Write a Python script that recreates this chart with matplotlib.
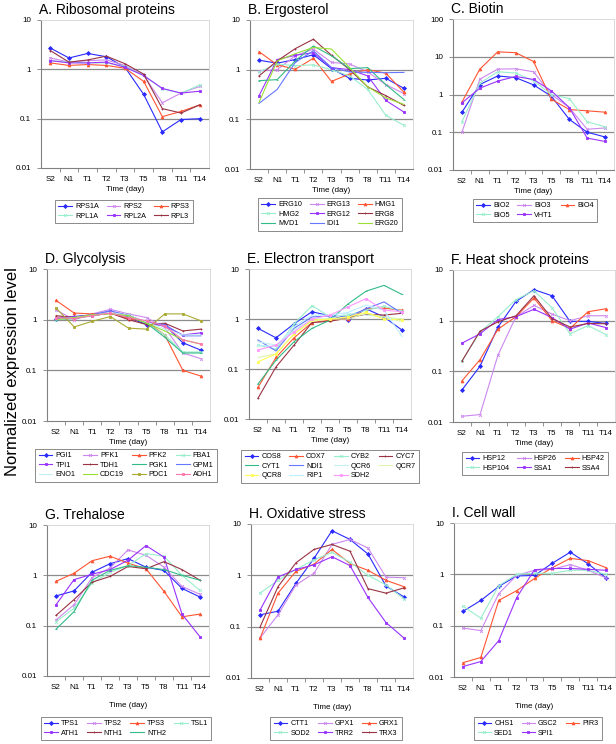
import matplotlib
matplotlib.use('Agg')
import matplotlib.pyplot as plt
from matplotlib.ticker import FixedLocator, NullFormatter, FuncFormatter

plt.rcParams['font.family'] = ['Liberation Sans', 'DejaVu Sans']

times = ['S2', 'N1', 'T1', 'T2', 'T3', 'T5', 'T8', 'T11', 'T14']

# A. Ribosomal proteins
ribo_genes = ['RPS1A', 'RPS2', 'RPS3', 'RPL1A', 'RPL2A', 'RPL3']
ribo_values = [
    [2.7, 1.7, 2.1, 1.8, 1.1, 0.31, 0.054, 0.096, 0.1],
    [1.7, 1.4, 1.5, 1.55, 1.2, 0.75, 0.21, 0.33, 0.45],
    [1.35, 1.2, 1.25, 1.2, 1.05, 0.57, 0.11, 0.14, 0.19],
    [1.5, 1.4, 1.35, 1.35, 1.15, 0.75, 0.4, 0.33, 0.48],
    [1.5, 1.35, 1.35, 1.4, 1.1, 0.75, 0.41, 0.33, 0.36],
    [2.4, 1.4, 1.55, 1.85, 1.3, 0.8, 0.16, 0.13, 0.19],
]

# B. Ergosterol
ergo_genes = ['ERG10', 'ERG13', 'HMG1', 'HMG2', 'ERG12', 'ERG8', 'MVD1', 'IDI1', 'ERG20']
ergo_values = [
    [1.55, 1.35, 1.6, 2.0, 1.05, 0.67, 0.62, 0.67, 0.42],
    [0.95, 1.0, 1.9, 2.6, 1.4, 1.3, 0.9, 0.5, 0.33],
    [2.3, 1.25, 1.02, 1.7, 0.58, 0.82, 1.0, 0.85, 0.35],
    [0.9, 1.3, 1.2, 1.25, 1.0, 0.75, 0.4, 0.12, 0.076],
    [0.3, 1.6, 1.95, 2.2, 1.1, 1.0, 0.75, 0.24, 0.14],
    [0.75, 1.5, 2.65, 4.1, 1.95, 1.0, 0.45, 0.3, 0.19],
    [0.6, 0.63, 1.5, 3.0, 1.9, 1.05, 1.1, 0.5, 0.25],
    [0.21, 0.4, 1.4, 2.4, 1.1, 0.9, 0.88, 0.87, 0.88],
    [0.22, 1.5, 2.1, 2.8, 2.6, 1.1, 0.45, 0.27, 0.2],
]

# C. Biotin
bio_genes = ['BIO2', 'BIO3', 'BIO4', 'BIO5', 'VHT1']
bio_values = [
    [0.34, 1.84, 3.1, 2.8, 1.8, 0.9, 0.22, 0.1, 0.075],
    [0.1, 2.55, 4.7, 4.8, 4.0, 1.0, 0.45, 0.12, 0.13],
    [0.63, 4.7, 13.5, 12.8, 7.5, 0.75, 0.4, 0.37, 0.34],
    [0.19, 2.0, 4.0, 3.7, 2.3, 1.0, 0.78, 0.19, 0.14],
    [0.6, 1.47, 2.26, 3.0, 2.5, 1.25, 0.45, 0.07, 0.057],
]

# D. Glycolysis
glyco_genes = ['PGI1', 'PFK1', 'PFK2', 'FBA1', 'TPI1', 'TDH1',
               'PGK1', 'GPM1', 'ENO1', 'CDC19', 'PDC1', 'ADH1']
glyco_values = [
    [1.05, 1.15, 1.25, 1.45, 1.1, 0.8, 0.78, 0.35, 0.25],
    [1.55, 1.0, 1.3, 1.6, 1.3, 1.1, 0.7, 0.22, 0.17],
    [2.4, 1.35, 1.3, 1.35, 1.05, 0.9, 0.5, 0.1, 0.077],
    [1.0, 1.1, 1.2, 1.4, 1.25, 0.85, 0.5, 0.23, 0.23],
    [1.1, 1.15, 1.2, 1.45, 1.2, 0.9, 0.75, 0.5, 0.55],
    [1.2, 1.1, 1.2, 1.35, 1.0, 0.8, 0.85, 0.6, 0.65],
    [1.0, 1.05, 1.2, 1.35, 1.15, 0.85, 0.45, 0.22, 0.22],
    [1.1, 1.1, 1.25, 1.5, 1.2, 0.9, 0.8, 0.48, 0.48],
    [1.0, 1.1, 1.2, 1.4, 1.2, 0.9, 0.65, 0.5, 0.5],
    [1.0, 1.1, 1.25, 1.3, 1.2, 0.85, 0.6, 0.4, 0.33],
    [1.7, 0.72, 0.93, 1.15, 0.68, 0.65, 1.3, 1.3, 0.95],
    [1.1, 1.05, 1.2, 1.35, 1.1, 0.95, 0.75, 0.4, 0.33],
]

# E. Electron transport
elec_genes = ['COS8', 'COX7', 'CYB2', 'CYC7', 'CYT1', 'NDI1',
              'QCR6', 'QCR7', 'QCR8', 'RIP1', 'SDH2']
elec_values = [
    [0.65, 0.42, 0.8, 1.4, 1.15, 0.95, 1.6, 1.1, 0.6],
    [0.043, 0.17, 0.42, 0.85, 0.95, 1.0, 1.6, 1.65, 1.5],
    [0.3, 0.25, 0.8, 1.85, 1.1, 1.2, 1.5, 1.8, 1.45],
    [0.026, 0.11, 0.3, 0.85, 0.9, 1.05, 1.25, 1.2, 1.3],
    [0.05, 0.15, 0.35, 0.65, 0.95, 2.0, 3.6, 4.7, 3.1],
    [0.38, 0.23, 0.65, 1.1, 1.15, 1.1, 1.6, 2.2, 1.3],
    [0.35, 0.3, 0.6, 1.0, 1.0, 1.3, 1.2, 1.1, 0.9],
    [0.17, 0.2, 0.5, 0.9, 1.0, 1.0, 1.3, 1.1, 1.0],
    [0.14, 0.2, 0.5, 0.95, 1.0, 1.1, 1.35, 1.0, 0.95],
    [0.3, 0.28, 0.7, 1.2, 1.2, 1.35, 1.9, 1.5, 0.45],
    [0.24, 0.3, 0.55, 1.0, 1.2, 1.75, 2.55, 1.5, 1.4],
]

# F. Heat shock proteins
hsp_genes = ['HSP12', 'HSP26', 'HSP42', 'HSP104', 'SSA1', 'SSA4']
hsp_values = [
    [0.043, 0.126, 0.75, 2.4, 4.1, 3.1, 0.97, 0.97, 0.88],
    [0.013, 0.014, 0.21, 1.2, 2.0, 1.35, 1.0, 1.25, 1.25],
    [0.065, 0.17, 0.68, 1.2, 2.8, 1.0, 0.7, 1.5, 1.72],
    [0.16, 0.6, 1.2, 2.6, 3.9, 1.8, 0.55, 0.8, 0.53],
    [0.36, 0.55, 1.05, 1.2, 1.68, 1.15, 0.68, 0.9, 0.73],
    [0.16, 0.62, 0.95, 1.25, 3.1, 1.1, 0.75, 0.88, 0.87],
]

# G. Trehalose
treh_genes = ['TPS1', 'TPS2', 'TPS3', 'TSL1', 'ATH1', 'NTH1', 'NTH2']
treh_values = [
    [0.39, 0.49, 1.15, 1.7, 2.15, 1.45, 1.25, 0.55, 0.37],
    [0.13, 0.26, 0.9, 1.4, 3.2, 2.5, 1.45, 0.6, 0.42],
    [0.76, 1.1, 1.95, 2.4, 1.75, 1.35, 0.48, 0.15, 0.17],
    [0.12, 0.22, 0.7, 1.15, 1.55, 2.7, 2.4, 1.0, 0.5],
    [0.26, 0.82, 1.05, 1.3, 2.0, 3.9, 2.3, 0.17, 0.06],
    [0.16, 0.33, 0.73, 0.95, 1.5, 1.35, 1.87, 1.3, 0.8],
    [0.085, 0.19, 0.8, 1.25, 1.55, 1.45, 1.3, 1.0, 0.8],
]

# H. Oxidative stress
oxi_genes = ['CTT1', 'GPX1', 'GRX1', 'SOD2', 'TRR2', 'TRX3']
oxi_values = [
    [0.17, 0.2, 0.7, 2.14, 7.4, 5.0, 2.6, 0.62, 0.38],
    [0.06, 0.17, 0.65, 1.1, 4.0, 5.0, 3.4, 0.92, 0.9],
    [0.059, 0.45, 1.2, 1.65, 3.2, 1.7, 1.25, 0.8, 0.6],
    [0.45, 0.8, 1.3, 2.0, 2.8, 1.8, 1.0, 0.65, 0.35],
    [0.21, 0.93, 1.3, 1.6, 2.3, 1.55, 0.37, 0.12, 0.06],
    [0.098, 0.6, 1.76, 3.2, 4.0, 2.95, 0.55, 0.45, 0.57],
]

# I. Cell wall
wall_genes = ['CHS1', 'GSC2', 'PIR3', 'SED1', 'SPI1']
wall_values = [
    [0.19, 0.31, 0.58, 0.93, 0.95, 1.65, 2.7, 1.6, 0.85],
    [0.09, 0.08, 0.42, 0.95, 1.2, 1.25, 1.55, 1.2, 0.85],
    [0.019, 0.024, 0.31, 0.48, 0.83, 1.35, 2.05, 1.85, 1.35],
    [0.24, 0.14, 0.6, 1.0, 1.05, 1.05, 1.2, 1.2, 1.0],
    [0.016, 0.02, 0.051, 0.35, 1.23, 1.3, 1.3, 1.25, 1.2],
]

# line styles (colour, marker) by palette slot
STYLE = {
    'blue': ('#2a2aff', 'D'), 'violet': ('#cc88ee', 'x'), 'orange': ('#ff5533', '^'),
    'mint': ('#99eecc', 'x'), 'purple': ('#9933ff', 's'), 'maroon': ('#993344', '+'),
    'teal': ('#33bb88', '_'), 'lblue': ('#6677ff', ''), 'pale': ('#c4f0f0', ''),
    'lime': ('#99e033', ''), 'olive': ('#aaaa33', 's'), 'pink': ('#ff77aa', 's'),
    'palelime': ('#ddf5b0', ''), 'yellow': ('#ffff55', 's'), 'sky': ('#bbeeff', ''),
    'lpink': ('#ff99ff', 's'),
}
base6 = ['blue', 'violet', 'orange', 'mint', 'purple', 'maroon']

# title, genes, values, palette, ylim top, axes px (l, t, r, b), legend (cx, top, ncol), xlabel pad
panels = [
    ('A. Ribosomal proteins', ribo_genes, ribo_values, base6, 10,
     (41, 20, 209, 168), (124, 200, 3), 2),
    ('B. Ergosterol', ergo_genes, ergo_values, base6 + ['teal', 'lblue', 'lime'], 10,
     (250, 20, 413, 169), (330, 198, 3), 2),
    ('C. Biotin', bio_genes, bio_values, base6[:5], 100,
     (453, 19, 614, 170), (535, 199, 3), 2),
    ('D. Glycolysis', glyco_genes, glyco_values,
     base6 + ['teal', 'lblue', 'pale', 'lime', 'olive', 'pink'], 10,
     (47, 269, 210, 421), (126, 449, 4), 2),
    ('E. Electron transport', elec_genes, elec_values,
     ['blue', 'orange', 'mint', 'maroon', 'teal', 'lblue', 'pale', 'palelime',
      'yellow', 'sky', 'lpink'], 10,
     (249, 269, 411, 419), (330, 450, 4), 2),
    ('F. Heat shock proteins', hsp_genes, hsp_values, base6, 10,
     (453, 270, 615, 422), (535, 452, 3), 2),
    ('G. Trehalose', treh_genes, treh_values, base6 + ['teal'], 10,
     (47, 525, 209, 676), (126, 717, 4), 8),
    ('H. Oxidative stress', oxi_genes, oxi_values, base6, 10,
     (251, 524, 413, 678), (336, 717, 3), 8),
    ('I. Cell wall', wall_genes, wall_values, base6[:5], 10,
     (454, 523, 615, 677), (538, 717, 3), 8),
]

W, H = 616, 744
fig = plt.figure(figsize=(W / 100, H / 100), dpi=100)


def fmt_dec(v, pos):
    return '{:g}'.format(v)


x = list(range(len(times)))
for title, genes, values, palette, ytop, (l, t, r, b), (lcx, ltop, ncol), xpad in panels:
    ax = fig.add_axes([l / W, 1 - b / H, (r - l) / W, (b - t) / H])
    handles = []
    for gene, vals, key in zip(genes, values, palette):
        color, marker = STYLE[key]
        h, = ax.plot(x, vals, color=color, lw=0.8, marker=marker or None,
                     markersize=2.0, markeredgewidth=0.6, label=gene)
        handles.append(h)
    ax.set_yscale('log')
    ax.set_ylim(0.01, ytop)
    ax.set_xlim(-0.5, len(times) - 0.5)
    decades = [0.01, 0.1, 1, 10, 100][:5 if ytop == 100 else 4]
    ax.yaxis.set_major_locator(FixedLocator(decades))
    ax.yaxis.set_major_formatter(FuncFormatter(fmt_dec))
    ax.yaxis.set_minor_locator(FixedLocator([]))
    for d in decades[1:-1]:
        ax.axhline(d, color='#8c8c8c', lw=0.9, zorder=0)
    ax.set_xticks(x)
    ax.set_xticklabels(times)
    ax.xaxis.set_minor_locator(FixedLocator([i + 0.5 for i in x[:-1]]))
    ax.xaxis.set_minor_formatter(NullFormatter())
    ax.tick_params(axis='x', which='major', length=0, pad=6, labelsize=5.8)
    ax.tick_params(axis='x', which='minor', length=3, width=0.6, color='#808080')
    ax.tick_params(axis='y', which='major', length=3, width=0.6, color='#808080',
                   pad=4, labelsize=5.8)
    for side in ('left', 'bottom'):
        ax.spines[side].set_color('#808080')
        ax.spines[side].set_linewidth(0.8)
    for side in ('top', 'right'):
        ax.spines[side].set_color('#d4d4d4')
        ax.spines[side].set_linewidth(0.6)
    ax.set_xlabel('Time (day)', fontsize=5.8, labelpad=xpad)
    ax.set_title(title, loc='left', fontsize=10, pad=4, x=-0.01)

    # legend filled row by row like the original
    order = [i for c in range(ncol) for i in range(c, len(handles), ncol)]
    leg = fig.legend([handles[i] for i in order], [genes[i] for i in order],
                     loc='upper center', bbox_to_anchor=(lcx / W, 1 - ltop / H),
                     ncol=ncol, fontsize=5.2, frameon=True, fancybox=False,
                     handlelength=1.9, handletextpad=0.4, columnspacing=1.1,
                     borderpad=0.45, labelspacing=0.35, borderaxespad=0)
    leg.get_frame().set_edgecolor('#555555')
    leg.get_frame().set_linewidth(0.6)

fig.text(13 / W, 1 - 372 / H, 'Normalized expression level', rotation=90,
         ha='center', va='center', fontsize=12)

fig.savefig('out.png', dpi=100)
